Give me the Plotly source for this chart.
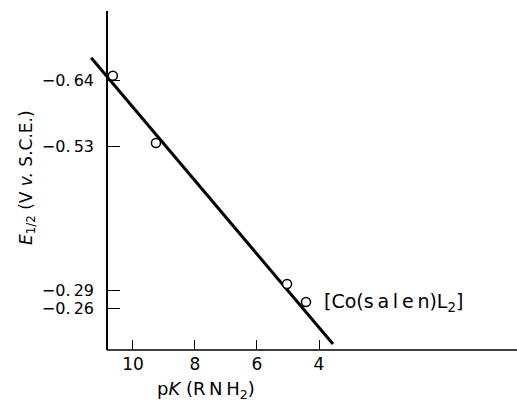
import plotly.graph_objects as go

# data
pk_points = [10.65, 9.26, 5.03, 4.42]
e_points = [-0.647, -0.535, -0.300, -0.270]
fit_pk = [11.35, 3.55]
fit_e = [-0.677, -0.200]
x_tickvals = [10, 8, 6, 4]
x_ticktext = ["10", "8", "6", "4"]
y_tickvals = [-0.64, -0.53, -0.29, -0.26]
y_ticktext = ["\u22120.\u200964", "\u22120.\u200953", "\u22120.\u200929", "\u22120.\u200926"]
complex_label = "[Co(s\u2009a\u2009l\u2009e\u2009n)L<sub>2</sub>]"

FONT = "DejaVu Sans"
L, R, T, B = 85, 0, 11, 54
W, H = 517, 404
yaxis_px = 107
ypos = (yaxis_px - L) / (W - L - R)

fig = go.Figure()
fig.add_trace(go.Scatter(x=fit_pk, y=fit_e, mode="lines",
                         line=dict(color="black", width=3), showlegend=False))
fig.add_trace(go.Scatter(x=pk_points, y=e_points, mode="markers",
                         marker=dict(symbol="circle", size=9, color="white",
                                     line=dict(color="black", width=1.5)),
                         showlegend=False, cliponaxis=False))

fig.add_annotation(x=3.9, y=-0.27, xref="x", yref="y", text=complex_label,
                   showarrow=False, xanchor="left", yanchor="middle",
                   font=dict(family=FONT, size=19, color="black"))
fig.add_annotation(x=(27 - L) / (W - L - R), y=0.51, xref="paper", yref="paper",
                   text="<i>E</i><sub>1/2</sub> (V <i>v.</i> S.C.E.)",
                   showarrow=False, textangle=-90, xanchor="center", yanchor="middle",
                   font=dict(family=FONT, size=17, color="black"))
fig.add_annotation(x=(206 - L) / (W - L - R), y=(H - B - 390) / (H - T - B),
                   xref="paper", yref="paper",
                   text="p<i>K</i> (R\u2009N\u2009H<sub>2</sub>)",
                   showarrow=False, xanchor="center", yanchor="middle",
                   font=dict(family=FONT, size=18, color="black"))

# x axis baseline starting at the y axis
fig.add_shape(type="line", xref="paper", yref="paper", x0=ypos, x1=1, y0=0, y1=0,
              line=dict(color="black", width=1.5))

fig.update_layout(
    width=W, height=H,
    margin=dict(l=L, r=R, t=T, b=B),
    paper_bgcolor="white", plot_bgcolor="white",
    font=dict(family=FONT, size=16, color="black"),
    xaxis=dict(range=[11.548, -2.387], tickvals=x_tickvals, ticktext=x_ticktext,
               ticks="inside", ticklen=10, tickwidth=1.2, tickcolor="black",
               showline=False, showgrid=False, zeroline=False, ticklabelstandoff=2,
               tickfont=dict(family=FONT, size=17)),
    yaxis=dict(range=[-0.19, -0.755], tickvals=y_tickvals, ticktext=y_ticktext,
               anchor="free", position=ypos,
               ticks="inside", ticklen=12, tickwidth=1.2, tickcolor="black",
               showline=True, linecolor="black", linewidth=1.5,
               showgrid=False, zeroline=False, ticklabelstandoff=9,
               tickfont=dict(family=FONT, size=16)),
)

fig.write_html("out.html")
